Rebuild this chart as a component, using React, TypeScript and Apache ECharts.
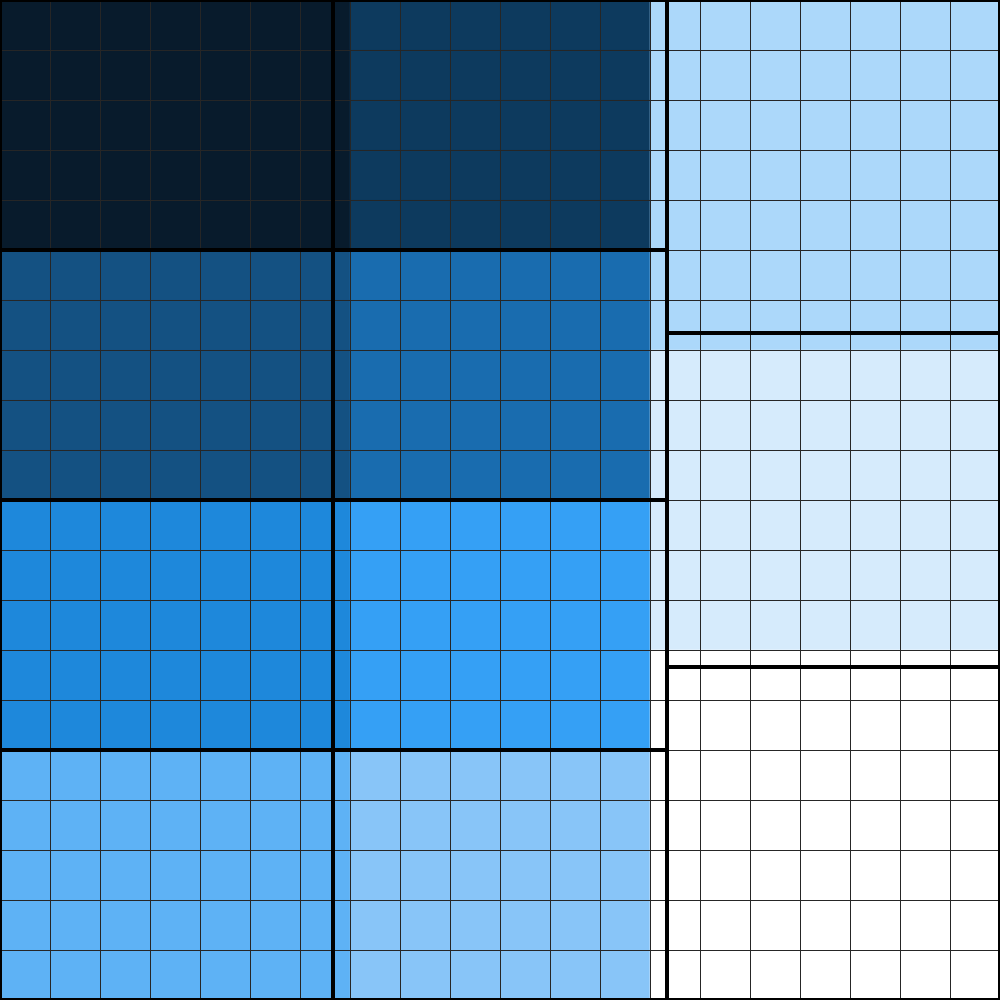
import React, { useEffect, useRef } from "react";
import * as echarts from "echarts";

// Cell grid: 20 rows x 20 columns, each letter is a region id
const cellRows: string[] = [
  "aaaaaaabbbbbbiiiiiii",
  "aaaaaaabbbbbbiiiiiii",
  "aaaaaaabbbbbbiiiiiii",
  "aaaaaaabbbbbbiiiiiii",
  "aaaaaaabbbbbbiiiiiii",
  "cccccccddddddiiiiiii",
  "cccccccddddddiiiiiii",
  "cccccccddddddjjjjjjj",
  "cccccccddddddjjjjjjj",
  "cccccccddddddjjjjjjj",
  "eeeeeeeffffffjjjjjjj",
  "eeeeeeeffffffjjjjjjj",
  "eeeeeeeffffffjjjjjjj",
  "eeeeeeeffffffkkkkkkk",
  "eeeeeeeffffffkkkkkkk",
  "ggggggghhhhhhkkkkkkk",
  "ggggggghhhhhhkkkkkkk",
  "ggggggghhhhhhkkkkkkk",
  "ggggggghhhhhhkkkkkkk",
  "ggggggghhhhhhkkkkkkk",
];

const regionIds: string[] = ["a", "b", "c", "d", "e", "f", "g", "h", "i", "j", "k"];

const regionColors: string[] = [
  "#081b2c",
  "#0d3a5e",
  "#145182",
  "#196caf",
  "#1e88db",
  "#35a0f5",
  "#5eb2f5",
  "#88c5f8",
  "#acd8fa",
  "#d6ebfc",
  "#ffffff",
];

// Region outlines in a 0..1000 space: [x0, y0, x1, y1]
const regionBounds: number[][] = [
  [0, 0, 333, 250],
  [333, 0, 667, 250],
  [0, 250, 333, 500],
  [333, 250, 667, 500],
  [0, 500, 333, 750],
  [333, 500, 667, 750],
  [0, 750, 333, 1000],
  [333, 750, 667, 1000],
  [667, 0, 1000, 333],
  [667, 333, 1000, 667],
  [667, 667, 1000, 1000],
];

const colCategories: string[] = Array.from({ length: 20 }, (_, i) => String(i));
const rowCategories: string[] = Array.from({ length: 20 }, (_, i) => String(i));

const gridLine = {
  show: true,
  interval: 0,
  lineStyle: { color: "#262626", width: 1 },
};

export default function App() {
  const ref = useRef<HTMLDivElement>(null);

  useEffect(() => {
    if (!ref.current) return;
    const chart = echarts.init(ref.current, undefined, { renderer: "svg" });

    const heatData: number[][] = [];
    cellRows.forEach((row, r) => {
      row.split("").forEach((ch, c) => {
        heatData.push([c, r, regionIds.indexOf(ch)]);
      });
    });

    chart.setOption({
      animation: false,
      backgroundColor: "#ffffff",
      grid: { left: 0, right: 0, top: 0, bottom: 0, containLabel: false },
      xAxis: [
        {
          type: "category",
          data: colCategories,
          boundaryGap: true,
          z: 5,
          axisLine: { show: false },
          axisTick: { show: false },
          axisLabel: { show: false },
          splitLine: gridLine,
        },
        {
          type: "value",
          min: 0,
          max: 1000,
          show: false,
        },
      ],
      yAxis: [
        {
          type: "category",
          data: rowCategories,
          inverse: true,
          boundaryGap: true,
          z: 5,
          axisLine: { show: false },
          axisTick: { show: false },
          axisLabel: { show: false },
          splitLine: gridLine,
        },
        {
          type: "value",
          min: 0,
          max: 1000,
          inverse: true,
          show: false,
        },
      ],
      visualMap: {
        type: "piecewise",
        show: false,
        seriesIndex: 0,
        dimension: 2,
        pieces: regionColors.map((color, i) => ({ value: i, color })),
      },
      series: [
        {
          type: "heatmap",
          xAxisIndex: 0,
          yAxisIndex: 0,
          z: 1,
          data: heatData,
          itemStyle: { borderWidth: 0 },
          emphasis: { disabled: true },
        },
        {
          type: "custom",
          xAxisIndex: 1,
          yAxisIndex: 1,
          clip: false,
          z: 10,
          encode: { x: [0, 2], y: [1, 3] },
          data: regionBounds,
          renderItem: (params: any, api: any) => {
            const p0 = api.coord([api.value(0), api.value(1)]);
            const p1 = api.coord([api.value(2), api.value(3)]);
            return {
              type: "rect",
              shape: {
                x: Math.min(p0[0], p1[0]),
                y: Math.min(p0[1], p1[1]),
                width: Math.abs(p1[0] - p0[0]),
                height: Math.abs(p1[1] - p0[1]),
              },
              style: { fill: "none", stroke: "#000000", lineWidth: 4 },
            };
          },
        },
      ],
    });

    return () => chart.dispose();
  }, []);

  return (
    <div
      ref={ref}
      style={{ position: "fixed", left: 0, top: 0, width: 1000, height: 1000 }}
    />
  );
}
